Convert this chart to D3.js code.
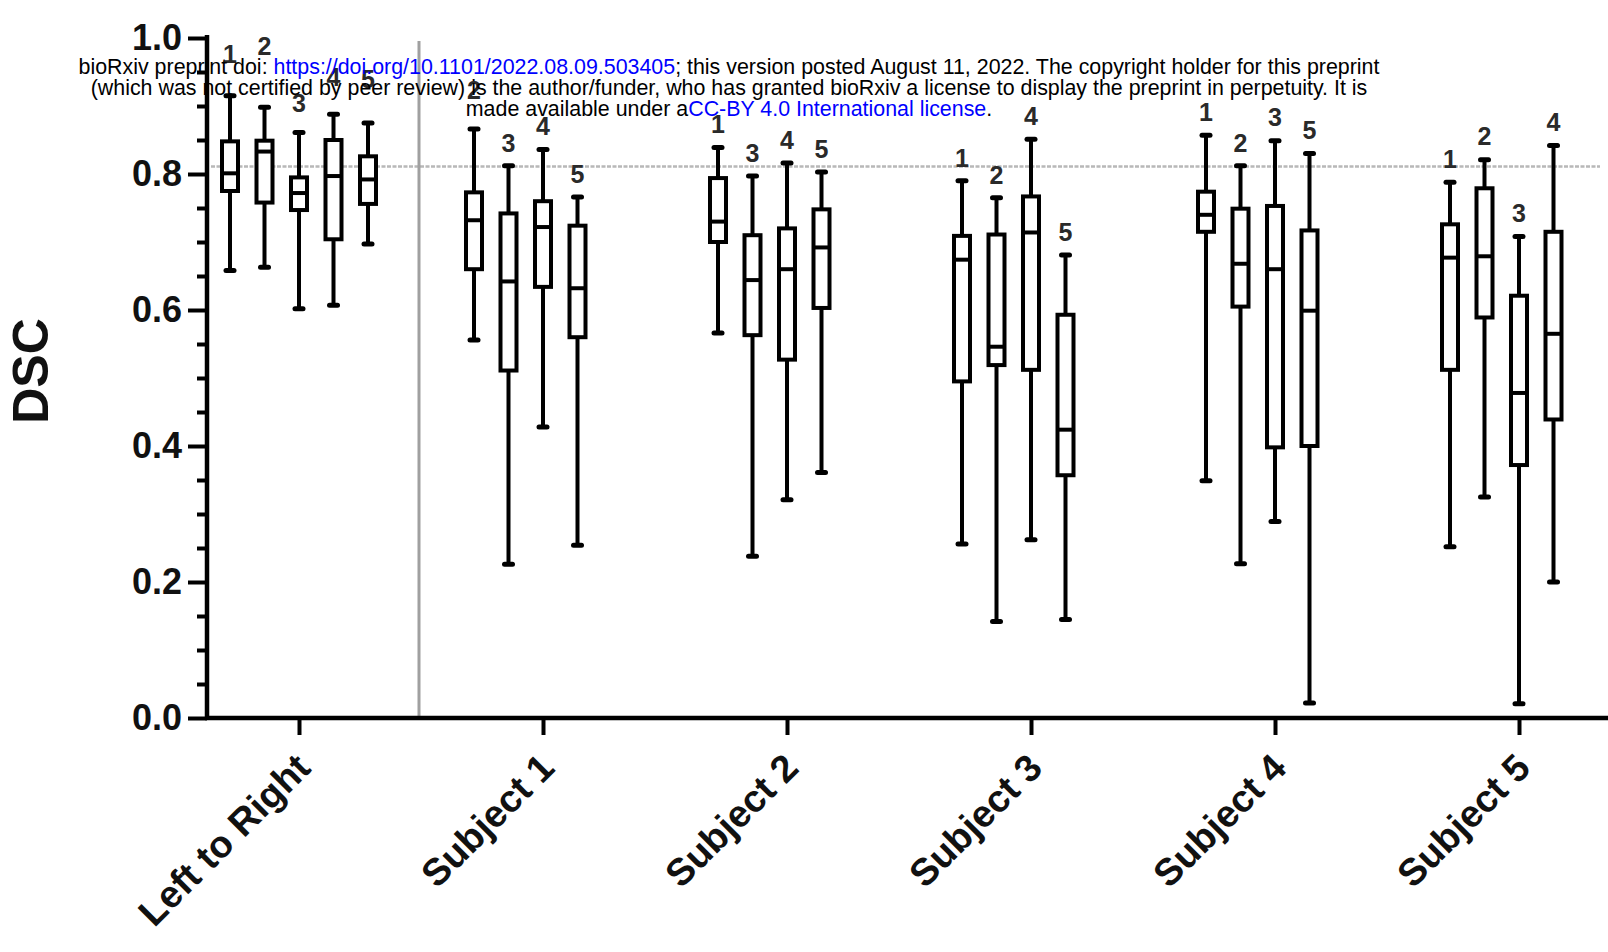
<!DOCTYPE html>
<html>
<head>
<meta charset="utf-8">
<script src="https://cdn.jsdelivr.net/npm/d3@7"></script>
<style>
  html, body { margin: 0; padding: 0; background: #fff; }
  svg { display: block; font-family: "Liberation Sans", Arial, sans-serif; }
</style>
</head>
<body>
<svg id="chart" width="1608" height="952"></svg>
<script>
// categories on the x axis
var groups = ["Left to Right", "Subject 1", "Subject 2", "Subject 3", "Subject 4", "Subject 5"];
// number printed above each box, per group
var boxNames = [[1, 2, 3, 4, 5], [2, 3, 4, 5], [1, 3, 4, 5], [1, 2, 4, 5], [1, 2, 3, 5], [1, 2, 3, 4]];

// box statistics (DSC), one row per group
var whiskerLow = [
	[0.658, 0.663, 0.602, 0.607, 0.697],
	[0.556, 0.226, 0.428, 0.254],
	[0.566, 0.238, 0.321, 0.361],
	[0.256, 0.142, 0.262, 0.145],
	[0.349, 0.227, 0.289, 0.022],
	[0.252, 0.325, 0.021, 0.200]
];
var q1 = [
	[0.775, 0.758, 0.747, 0.704, 0.756],
	[0.660, 0.511, 0.634, 0.560],
	[0.700, 0.563, 0.527, 0.603],
	[0.495, 0.519, 0.512, 0.357],
	[0.715, 0.605, 0.398, 0.400],
	[0.512, 0.589, 0.372, 0.439]
];
var median = [
	[0.801, 0.833, 0.772, 0.797, 0.792],
	[0.732, 0.642, 0.722, 0.632],
	[0.730, 0.644, 0.660, 0.692],
	[0.674, 0.546, 0.714, 0.424],
	[0.740, 0.668, 0.660, 0.599],
	[0.677, 0.679, 0.478, 0.565]
];
var q3 = [
	[0.848, 0.849, 0.795, 0.850, 0.826],
	[0.773, 0.742, 0.760, 0.724],
	[0.794, 0.710, 0.720, 0.748],
	[0.709, 0.711, 0.767, 0.593],
	[0.774, 0.749, 0.753, 0.717],
	[0.726, 0.779, 0.621, 0.715]
];
var whiskerHigh = [
	[0.915, 0.898, 0.861, 0.888, 0.875],
	[0.866, 0.812, 0.836, 0.766],
	[0.839, 0.797, 0.816, 0.803],
	[0.790, 0.765, 0.851, 0.681],
	[0.857, 0.812, 0.849, 0.830],
	[0.788, 0.821, 0.708, 0.842]
];
var refValue = 0.811;
var yTicks = [0, 0.2, 0.4, 0.6, 0.8, 1.0];
var yMinorTicks = [0.05, 0.1, 0.15, 0.25, 0.3, 0.35, 0.45, 0.5, 0.55, 0.65, 0.7, 0.75, 0.85, 0.9, 0.95];

var W = 1608, H = 952;
var axisX = 207;
var fontFam = "'Liberation Sans', Arial, sans-serif";

var svg = d3.select("#chart");
svg.append("rect").attr("width", W).attr("height", H).attr("fill", "#fff");

var y = d3.scaleLinear().domain([0, 1]).range([718, 38]);
var x = d3.scalePoint().domain(groups).range([299, 1519]);
// slot offset of a box inside its group
var slot = d3.scaleLinear().domain([0, 4]).range([-69, 69]);

// flatten into one record per box
var boxes = [];
groups.forEach(function (g, gi) {
	boxNames[gi].forEach(function (n, bi) {
		boxes.push({
			group: g, gi: gi, bi: bi, name: n,
			lo: whiskerLow[gi][bi], q1: q1[gi][bi], med: median[gi][bi],
			q3: q3[gi][bi], hi: whiskerHigh[gi][bi]
		});
	});
});

// labels in the crowded first group (and one in Subject 1) sit higher
var labelLift = { "0-0": 42, "0-1": 61, "0-2": 29, "0-3": 37, "0-4": 44, "1-0": 39 };

// reference line (dotted grey)
svg.append("line")
	.attr("x1", axisX + 4).attr("x2", 1600)
	.attr("y1", y(refValue)).attr("y2", y(refValue))
	.attr("stroke", "#b8b8b8")
	.attr("stroke-width", 2.5)
	.attr("stroke-dasharray", "4,1.5");

// grey separator between first group and subjects
var sepX = (x(groups[0]) + x(groups[1])) / 2 - 2;
svg.append("line")
	.attr("x1", sepX).attr("x2", sepX)
	.attr("y1", 41).attr("y2", y(0))
	.attr("stroke", "#a0a0a0")
	.attr("stroke-width", 3);

// y axis: major + minor ticks
var yAxis = d3.axisLeft(y).tickValues(yTicks).tickFormat(d3.format(".1f")).tickSize(19).tickPadding(6);
var gy = svg.append("g").attr("transform", "translate(" + axisX + ",0)").call(yAxis);
gy.select(".domain").remove();
gy.selectAll(".tick line").attr("stroke", "#000").attr("stroke-width", 4);
gy.selectAll(".tick text")
	.attr("fill", "#111")
	.style("font-size", "36px")
	.style("font-weight", "bold")
	.style("font-family", fontFam);

var yMinor = d3.axisLeft(y).tickValues(yMinorTicks).tickFormat("").tickSize(10);
var gym = svg.append("g").attr("transform", "translate(" + axisX + ",0)").call(yMinor);
gym.select(".domain").remove();
gym.selectAll(".tick line").attr("stroke", "#000").attr("stroke-width", 4);

// axis lines
svg.append("line")
	.attr("x1", axisX).attr("x2", axisX)
	.attr("y1", y(1) - 3).attr("y2", y(0) + 2)
	.attr("stroke", "#000").attr("stroke-width", 4.5);
svg.append("line")
	.attr("x1", axisX - 2).attr("x2", W)
	.attr("y1", y(0)).attr("y2", y(0))
	.attr("stroke", "#000").attr("stroke-width", 4.5);

// x axis ticks and rotated labels
var xAxis = d3.axisBottom(x).tickSize(17).tickPadding(0);
var gx = svg.append("g").attr("transform", "translate(0," + y(0) + ")").call(xAxis);
gx.select(".domain").remove();
gx.selectAll(".tick line").attr("stroke", "#000").attr("stroke-width", 4);
gx.selectAll(".tick text")
	.attr("y", 0).attr("dy", 0)
	.attr("fill", "#111")
	.attr("text-anchor", "end")
	.attr("transform", "translate(13,52) rotate(-45)")
	.style("font-size", "38px")
	.style("font-weight", "bold")
	.style("font-family", fontFam);

// y axis title
svg.append("text")
	.attr("transform", "translate(48,371) rotate(-90)")
	.attr("text-anchor", "middle")
	.attr("fill", "#111")
	.style("font-size", "50px")
	.style("font-weight", "bold")
	.text("DSC");

// boxes
var boxW = 16, capW = 8;
var bx = function (d) { return x(d.group) + slot(d.bi); };

var gb = svg.append("g").attr("class", "boxes");
var b = gb.selectAll("g.box").data(boxes).enter().append("g").attr("class", "box");

b.append("line")
	.attr("x1", bx).attr("x2", bx)
	.attr("y1", function (d) { return y(d.hi); })
	.attr("y2", function (d) { return y(d.lo); })
	.attr("stroke", "#000").attr("stroke-width", 4);

b.append("line")
	.attr("x1", function (d) { return bx(d) - capW / 2; })
	.attr("x2", function (d) { return bx(d) + capW / 2; })
	.attr("y1", function (d) { return y(d.hi); })
	.attr("y2", function (d) { return y(d.hi); })
	.attr("stroke", "#000").attr("stroke-width", 5).attr("stroke-linecap", "round");

b.append("line")
	.attr("x1", function (d) { return bx(d) - capW / 2; })
	.attr("x2", function (d) { return bx(d) + capW / 2; })
	.attr("y1", function (d) { return y(d.lo); })
	.attr("y2", function (d) { return y(d.lo); })
	.attr("stroke", "#000").attr("stroke-width", 5).attr("stroke-linecap", "round");

b.append("rect")
	.attr("x", function (d) { return bx(d) - boxW / 2; })
	.attr("width", boxW)
	.attr("y", function (d) { return y(d.q3); })
	.attr("height", function (d) { return y(d.q1) - y(d.q3); })
	.attr("fill", "#fff")
	.attr("stroke", "#000").attr("stroke-width", 4);

b.append("line")
	.attr("x1", function (d) { return bx(d) - boxW / 2; })
	.attr("x2", function (d) { return bx(d) + boxW / 2; })
	.attr("y1", function (d) { return y(d.med); })
	.attr("y2", function (d) { return y(d.med); })
	.attr("stroke", "#000").attr("stroke-width", 4);

b.append("text")
	.attr("x", bx)
	.attr("y", function (d) {
		var lift = labelLift[d.gi + "-" + d.bi] || 23;
		return y(d.hi) - lift;
	})
	.attr("dy", "0.35em")
	.attr("text-anchor", "middle")
	.attr("fill", "#2a2a2a")
	.style("font-size", "25px")
	.style("font-weight", "bold")
	.text(function (d) { return d.name; });

// preprint notice printed over the figure
var note = svg.append("g")
	.attr("text-anchor", "middle")
	.style("font-size", "21.4px")
	.attr("fill", "#000");

var l1 = note.append("text").attr("x", 729).attr("y", 74);
l1.append("tspan").text("bioRxiv preprint doi: ");
l1.append("tspan").attr("fill", "#0000ff").text("https://doi.org/10.1101/2022.08.09.503405");
l1.append("tspan").text("; this version posted August 11, 2022. The copyright holder for this preprint");

note.append("text").attr("x", 729).attr("y", 95)
	.text("(which was not certified by peer review) is the author/funder, who has granted bioRxiv a license to display the preprint in perpetuity. It is");

var l3 = note.append("text").attr("x", 729).attr("y", 116);
l3.append("tspan").text("made available under a");
l3.append("tspan").attr("fill", "#0000ff").text("CC-BY 4.0 International license");
l3.append("tspan").text(".");
</script>
</body>
</html>
